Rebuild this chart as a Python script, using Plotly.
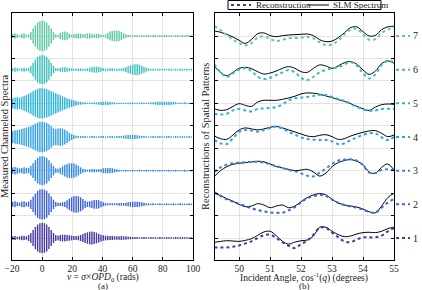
import plotly.graph_objects as go

# ---------------- data: panel (a) ----------------
# envelope half-amplitude (in trace-spacing units) of each channeled spectrum,
# sampled at v = -19.5, -18, ..., 99 (step 1.5 rad)
V_START, V_STEP = -19.5, 1.5
env7 = [0.06, 0.08, 0.06, 0.03, 0.07, 0.08, 0.04,
        0.05, 0.12, 0.22, 0.32, 0.40, 0.44, 0.45, 0.44, 0.40, 0.32, 0.22, 0.12, 0.05,
        0.04, 0.09, 0.12, 0.13, 0.11, 0.07, 0.04,
        0.06, 0.07, 0.08, 0.07, 0.05, 0.06, 0.08, 0.08, 0.06, 0.05, 0.07, 0.06,
        0.04, 0.03, 0.05, 0.09, 0.13, 0.15, 0.16, 0.16, 0.15, 0.12, 0.08, 0.05, 0.03,
        0.03, 0.02, 0.03, 0.03, 0.02, 0.03, 0.02, 0.03, 0.03, 0.02, 0.03, 0.03, 0.02, 0.03,
        0.02, 0.03, 0.03, 0.02, 0.03, 0.02, 0.03, 0.03, 0.02, 0.03, 0.02, 0.03, 0.03, 0.02]
env6 = [0.04, 0.06, 0.05, 0.03, 0.05, 0.06, 0.04,
        0.05, 0.11, 0.20, 0.30, 0.38, 0.42, 0.43, 0.42, 0.38, 0.30, 0.20, 0.11, 0.05,
        0.04, 0.06, 0.07, 0.07, 0.06, 0.05, 0.04, 0.03, 0.03, 0.04, 0.04, 0.03, 0.03,
        0.04, 0.06, 0.08, 0.09, 0.09, 0.08, 0.06, 0.04, 0.03, 0.03, 0.04, 0.04, 0.03,
        0.03, 0.03, 0.04, 0.05, 0.07, 0.10, 0.13, 0.15, 0.16, 0.16, 0.15, 0.12, 0.09,
        0.06, 0.04, 0.03,
        0.03, 0.02, 0.03, 0.03, 0.02, 0.03, 0.02, 0.03, 0.03, 0.02, 0.03, 0.02, 0.03,
        0.03, 0.02, 0.03, 0.02, 0.03]
env5 = [0.15, 0.17, 0.18, 0.17, 0.19, 0.22, 0.25,
        0.28, 0.32, 0.36, 0.40, 0.43, 0.45, 0.45, 0.44, 0.42, 0.39, 0.36, 0.33,
        0.30, 0.27, 0.24, 0.21, 0.18, 0.15, 0.13, 0.11, 0.09, 0.07,
        0.05, 0.04, 0.03, 0.03, 0.02, 0.02, 0.02, 0.03, 0.03, 0.04, 0.05, 0.05,
        0.05, 0.05, 0.04, 0.03, 0.03, 0.02, 0.02, 0.02,
        0.02, 0.02, 0.02, 0.03, 0.02, 0.02, 0.02, 0.02, 0.03, 0.02, 0.02, 0.02, 0.03,
        0.03, 0.04, 0.05, 0.05, 0.05, 0.05, 0.05, 0.05, 0.04, 0.04, 0.03, 0.02,
        0.02, 0.02, 0.03, 0.02, 0.02, 0.02]
env4 = [0.18, 0.20, 0.21, 0.22, 0.24, 0.26, 0.28,
        0.30, 0.32, 0.36, 0.40, 0.43, 0.45, 0.45, 0.44, 0.42, 0.38, 0.32, 0.26,
        0.24, 0.25, 0.26, 0.25, 0.22, 0.18, 0.13, 0.09, 0.06, 0.04,
        0.03, 0.03, 0.03, 0.03, 0.02, 0.02, 0.03, 0.03, 0.02, 0.02, 0.03, 0.03,
        0.02, 0.02, 0.03, 0.03, 0.02, 0.03, 0.03, 0.03, 0.04, 0.05, 0.06, 0.06,
        0.06, 0.06, 0.05, 0.04, 0.03, 0.03, 0.02, 0.02,
        0.02, 0.03, 0.02, 0.03, 0.03, 0.02, 0.02, 0.03, 0.03, 0.02, 0.02, 0.03, 0.02,
        0.02, 0.03, 0.02, 0.02, 0.03, 0.02]
env3 = [0.10, 0.11, 0.09, 0.07, 0.08, 0.10, 0.08,
        0.08, 0.14, 0.22, 0.31, 0.38, 0.42, 0.43, 0.42, 0.38, 0.31, 0.22, 0.14,
        0.07, 0.06, 0.09, 0.13, 0.17, 0.20, 0.22, 0.22, 0.21, 0.18,
        0.14, 0.10, 0.06, 0.04, 0.03, 0.04, 0.05, 0.05, 0.04, 0.04, 0.05, 0.07,
        0.08, 0.08, 0.08, 0.07, 0.05, 0.04, 0.03, 0.02,
        0.02, 0.03, 0.02, 0.02, 0.03, 0.02, 0.02, 0.03, 0.02, 0.02, 0.03, 0.02, 0.02,
        0.03, 0.02, 0.02, 0.03, 0.02, 0.02, 0.02, 0.03, 0.02, 0.02, 0.03, 0.02, 0.02,
        0.02, 0.03, 0.02, 0.02, 0.02]
env2 = [0.07, 0.09, 0.06, 0.05, 0.08, 0.09, 0.06,
        0.08, 0.14, 0.23, 0.32, 0.40, 0.44, 0.45, 0.44, 0.40, 0.32, 0.23, 0.14,
        0.07, 0.05, 0.05, 0.06, 0.08, 0.12, 0.17, 0.21, 0.24, 0.25,
        0.24, 0.21, 0.16, 0.11, 0.08, 0.09, 0.11, 0.13, 0.13, 0.12, 0.09, 0.06,
        0.04, 0.03, 0.03, 0.03, 0.03, 0.03, 0.04, 0.04, 0.04, 0.05, 0.06, 0.07,
        0.08, 0.08, 0.08, 0.07, 0.06, 0.05, 0.03, 0.03,
        0.02, 0.03, 0.02, 0.02, 0.03, 0.02, 0.02, 0.03, 0.02, 0.02, 0.03, 0.02, 0.02,
        0.03, 0.02, 0.02, 0.02, 0.03, 0.02]
env1 = [0.05, 0.06, 0.04, 0.05, 0.07, 0.06, 0.05,
        0.09, 0.15, 0.24, 0.33, 0.40, 0.44, 0.45, 0.44, 0.40, 0.33, 0.24, 0.15,
        0.09, 0.07, 0.09, 0.10, 0.10, 0.09, 0.08, 0.07, 0.06, 0.06,
        0.07, 0.09, 0.12, 0.15, 0.17, 0.19, 0.19, 0.18, 0.16, 0.13, 0.10, 0.08,
        0.07, 0.07, 0.06, 0.06, 0.05, 0.05, 0.05, 0.06, 0.05, 0.05, 0.04, 0.04,
        0.03, 0.03, 0.03, 0.02,
        0.02, 0.03, 0.02, 0.02, 0.03, 0.02, 0.02, 0.02, 0.03, 0.02, 0.02, 0.03, 0.02,
        0.02, 0.02, 0.03, 0.02, 0.02, 0.03, 0.02, 0.02, 0.02, 0.02]
spectra = [env1, env2, env3, env4, env5, env6, env7]

# ---------------- data: panel (b) ----------------
angle = [49.2, 49.4, 49.6, 49.8, 50.0, 50.2, 50.4, 50.6, 50.8, 51.0,
         51.2, 51.4, 51.6, 51.8, 52.0, 52.2, 52.4, 52.6, 52.8, 53.0,
         53.2, 53.4, 53.6, 53.8, 54.0, 54.2, 54.4, 54.6, 54.8, 55.0]
slm1 = [-0.13, -0.10, -0.08, -0.09, -0.10, -0.07, -0.02, 0.08, 0.18, 0.20, 0.07, -0.10, -0.18, -0.12, -0.08,
        -0.06, 0.06, 0.32, 0.32, 0.20, 0.10, 0.04, 0.06, 0.12, 0.16, 0.17, 0.16, 0.20, 0.28, 0.32]
rec1 = [-0.28, -0.28, -0.28, -0.26, -0.22, -0.16, -0.10, 0.0, 0.08, 0.10, 0.0, -0.13, -0.23, -0.30, -0.18,
        -0.08, 0.10, 0.30, 0.30, 0.16, 0.02, -0.10, -0.12, -0.04, 0.02, 0.02, 0.02, 0.07, 0.20, 0.30]
slm2 = [0.33, 0.26, 0.17, 0.09, 0.0, -0.07, -0.05, 0.02, -0.02, -0.10, -0.05, -0.02, -0.10, -0.05, 0.08,
        0.20, 0.28, 0.32, 0.28, 0.15, 0.04, -0.02, -0.05, -0.08, -0.14, -0.22, -0.25, -0.05, 0.20, 0.33]
rec2 = [0.36, 0.25, 0.15, 0.08, 0.01, -0.05, -0.12, -0.17, -0.21, -0.24, -0.25, -0.25, -0.18, -0.08, 0.06,
        0.18, 0.24, 0.28, 0.25, 0.14, 0.04, -0.02, -0.06, -0.10, -0.16, -0.23, -0.24, -0.10, 0.05, 0.16]
slm3 = [-0.17, 0.0, 0.12, 0.19, 0.22, 0.24, 0.26, 0.28, 0.26, 0.20, 0.12, 0.08, 0.04, 0.0, 0.02,
        0.04, -0.04, -0.16, -0.07, 0.12, 0.24, 0.30, 0.33, 0.28, 0.18, -0.04, -0.08, 0.10, 0.20, 0.02]
rec3 = [-0.04, 0.10, 0.18, 0.22, 0.24, 0.25, 0.26, 0.26, 0.24, 0.18, 0.14, 0.08, 0.02, -0.02, -0.08,
        -0.15, -0.17, -0.06, 0.06, 0.20, 0.30, 0.33, 0.34, 0.30, 0.16, -0.06, -0.07, 0.02, 0.04, 0.0]
slm4 = [0.03, -0.05, -0.07, 0.06, 0.21, 0.27, 0.24, 0.21, 0.24, 0.29, 0.31, 0.27, 0.21, 0.15, 0.09,
        0.03, 0.01, 0.05, 0.07, 0.01, -0.07, -0.05, 0.03, 0.09, 0.14, 0.18, 0.19, 0.11, 0.01, 0.06]
rec4 = [-0.09, -0.19, -0.21, -0.04, 0.15, 0.21, 0.19, 0.16, 0.21, 0.27, 0.31, 0.25, 0.15, 0.07, -0.01,
        -0.06, -0.08, -0.09, -0.09, -0.13, -0.21, -0.19, -0.09, -0.01, 0.06, 0.11, 0.11, -0.01, -0.09, 0.01]
slm5 = [-0.16, -0.21, -0.19, -0.09, -0.01, -0.06, -0.09, 0.04, 0.09, 0.09, 0.09, 0.12, 0.16, 0.21, 0.28,
        0.31, 0.30, 0.27, 0.22, 0.17, 0.11, 0.06, -0.01, -0.09, -0.16, -0.21, -0.11, -0.04, -0.02, -0.03]
rec5 = [-0.31, -0.33, -0.31, -0.21, -0.17, -0.21, -0.24, -0.17, -0.15, -0.14, -0.11, -0.03, 0.09, 0.15, 0.17,
        0.19, 0.22, 0.25, 0.25, 0.19, 0.13, 0.07, -0.01, -0.11, -0.18, -0.22, -0.21, -0.17, -0.16, -0.16]
slm6 = [0.09, -0.08, -0.18, -0.08, 0.04, 0.07, 0.03, -0.06, -0.13, -0.10, -0.04, 0.04, 0.09, 0.04, -0.06,
        -0.08, 0.04, 0.14, 0.11, 0.04, 0.11, 0.21, 0.24, 0.16, -0.01, -0.14, -0.04, 0.18, 0.26, 0.19]
rec6 = [0.16, -0.08, -0.21, -0.11, 0.0, 0.04, -0.04, -0.21, -0.28, -0.24, -0.16, -0.08, -0.01, -0.08, -0.24,
        -0.31, -0.21, -0.08, -0.01, 0.04, 0.07, 0.16, 0.22, 0.12, -0.11, -0.26, -0.14, 0.14, 0.26, 0.22]
slm7 = [0.15, 0.11, 0.05, -0.03, -0.13, -0.22, -0.10, 0.07, 0.09, 0.01, -0.02, 0.01, 0.03, 0.04, 0.05,
        0.06, 0.01, -0.11, -0.17, -0.15, -0.05, 0.10, 0.25, 0.27, 0.13, 0.0, 0.02, 0.19, 0.27, 0.29]
rec7 = [0.29, 0.17, 0.03, -0.11, -0.21, -0.28, -0.21, -0.05, -0.01, -0.09, -0.15, -0.11, -0.07, -0.06, -0.05,
        -0.03, -0.07, -0.19, -0.27, -0.25, -0.13, 0.05, 0.19, 0.21, 0.05, -0.11, -0.09, 0.09, 0.19, 0.25]
slm = [slm1, slm2, slm3, slm4, slm5, slm6, slm7]
rec = [rec1, rec2, rec3, rec4, rec5, rec6, rec7]
labels = ["1", "2", "3", "4", "5", "6", "7"]

# ---------------- styling ----------------
colors = ["#47399e", "#3d62d4", "#3588e2", "#30a0e6", "#29b3da", "#3cbfbb", "#5fc9a3"]
FONT = "Liberation Serif"
W, H = 422, 290
px = lambda x: x / W
py = lambda y: 1 - y / H

fig = go.Figure()

# panel (a): channeled spectra drawn as fringe stripes
for k, env in enumerate(spectra):
    c = k + 1
    xs, ys = [], []
    for i, a in enumerate(env):
        v = V_START + V_STEP * i
        xs += [v, v, None]
        ys += [c - a, c + a, None]
    fig.add_trace(go.Scatter(x=xs, y=ys, mode="lines", xaxis="x", yaxis="y",
                             line=dict(color=colors[k], width=1.4),
                             showlegend=False, hoverinfo="skip"))

# panel (b): reconstructions and SLM spectra
for k in range(7):
    c = k + 1
    fig.add_trace(go.Scatter(x=angle, y=[c + s for s in slm[k]], mode="lines",
                             xaxis="x2", yaxis="y2", line=dict(color="black", width=1, shape="spline"),
                             showlegend=False))
    fig.add_trace(go.Scatter(x=angle, y=[c + r for r in rec[k]], mode="lines",
                             xaxis="x2", yaxis="y2",
                             line=dict(color=colors[k], width=2, dash="dot", shape="spline"),
                             showlegend=False))

ydom = [py(260), py(13)]
yrange = [0.347, 7.683]
common_y = dict(range=yrange, domain=ydom, showticklabels=False, ticks="inside", ticklen=3,
                tick0=1 / 3, dtick=2 / 3, showgrid=True, gridcolor="#e3e3e3", gridwidth=0.6,
                showline=True, linecolor="black", linewidth=1, mirror="ticks", zeroline=False,
                tickcolor="black", automargin=False)
common_x = dict(ticks="inside", ticklen=3, showgrid=True, gridcolor="#e3e3e3", gridwidth=0.6,
                showline=True, linecolor="black", linewidth=1, mirror="ticks", zeroline=False,
                tickcolor="black", automargin=False,
                tickfont=dict(family=FONT, size=9.5, color="#222"))

fig.update_layout(
    width=W, height=H, margin=dict(l=0, r=0, t=0, b=0, autoexpand=False),
    paper_bgcolor="white", plot_bgcolor="white",
    xaxis=dict(common_x, domain=[px(12), px(193)], range=[-20, 100], tick0=-20, dtick=20, anchor="y"),
    yaxis=dict(common_y, anchor="x"),
    xaxis2=dict(common_x, domain=[px(215), px(394)], range=[49.22, 55], tick0=50, dtick=1, anchor="y2"),
    yaxis2=dict(common_y, anchor="x2"),
    font=dict(family=FONT, color="#222"),
)

ann = []
shapes = []


def text(t, x, y, size=10, angle=0, xanchor="center", yref="paper"):
    ann.append(dict(text=t, x=x, y=y, xref="paper", yref=yref, showarrow=False, textangle=angle,
                    xanchor=xanchor, yanchor="middle", font=dict(size=size, family=FONT, color="#222")))


# axis titles
text("<i>v</i> = <i>σ</i>×<i>OPD</i><sub>0</sub> (rads)", px(103), py(277), size=9.5)
text("(a)", px(103), py(285.5), size=9)
text("Incident Angle, cos<sup>-1</sup>(<i>q</i>) (degrees)", px(304), py(277), size=9.5)
text("(b)", px(304), py(285.5), size=9)
text("Measured Channeled Spectra", px(5), py(137), size=10.5, angle=-90)
text("Reconstructions of Spatial Patterns", px(206), py(137), size=10.5, angle=-90)

# right-side labels
for k in range(7):
    c = k + 1
    shapes.append(dict(type="line", xref="paper", yref="y2", x0=px(396), x1=px(410), y0=c, y1=c,
                       line=dict(color=colors[k], width=2, dash="dot")))
    text(labels[k], px(415.5), c, size=10, yref="y2")

# legend box
shapes.append(dict(type="rect", xref="paper", yref="paper", x0=px(228), x1=px(381), y0=py(9.5), y1=py(0.5),
                   line=dict(color="black", width=1), fillcolor="white"))
shapes.append(dict(type="line", xref="paper", yref="paper", x0=px(231), x1=px(251), y0=py(5), y1=py(5),
                   line=dict(color=colors[0], width=2, dash="dot")))
shapes.append(dict(type="line", xref="paper", yref="paper", x0=px(308), x1=px(329), y0=py(5), y1=py(5),
                   line=dict(color="black", width=1)))
text("Reconstruction", px(254), py(5), size=9, xanchor="left")
text("SLM Spectrum", px(331), py(5), size=9, xanchor="left")

fig.update_layout(annotations=ann, shapes=shapes)
fig.write_html("out.html")
